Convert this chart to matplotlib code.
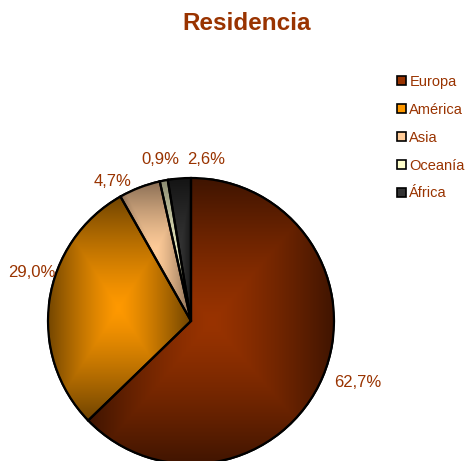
import matplotlib
matplotlib.use("Agg")
import matplotlib.pyplot as plt
import matplotlib.colors as mcolors
from matplotlib.patches import Patch, Wedge
import numpy as np

plt.rcParams['font.family'] = ['Liberation Sans', 'DejaVu Sans']

# data
regions = ["Europa", "América", "Asia", "Oceanía", "África"]
shares = [62.7, 29.0, 4.7, 0.9, 2.6]
pct_labels = ["62,7%", "29,0%", "4,7%", "0,9%", "2,6%"]

# centre / edge colours of the gradient fill
light = ["#993300", "#ff9900", "#ffcc99", "#e0e0b8", "#333333"]
dark = ["#3f1400", "#704400", "#8a6e55", "#8a8a70", "#141414"]
legend_cols = ["#993300", "#ff9900", "#ffcc99", "#ffffcc", "#333333"]
label_offsets = [(35, -6), (-18, 28), (-27, 6), (-3, 21), (27, 19)]

txt_col = "#993300"

fig = plt.figure(figsize=(4.66, 4.61), dpi=100)
ax = fig.add_axes([48 / 466, -3 / 461, 286 / 466, 286 / 461])

wedges, _ = ax.pie(shares, startangle=90, counterclock=False,
                   colors=light, radius=1,
                   wedgeprops=dict(edgecolor="black", linewidth=1.6))
ax.set_xlim(-1, 1)
ax.set_ylim(-1, 1)
ax.set_aspect("equal")
ax.axis("off")

# rectangular "from centre" gradient inside each wedge
for w, c1, c2 in zip(wedges, light, dark):
    verts = w.get_path().vertices
    x0, y0 = verts.min(axis=0)
    x1, y1 = verts.max(axis=0)
    n = 200
    xs = np.linspace(-1, 1, n)
    X, Y = np.meshgrid(xs, xs)
    t = np.clip(np.maximum(np.abs(X), np.abs(Y)), 0, 1) ** 1.3
    a = np.array(mcolors.to_rgb(c1))
    b = np.array(mcolors.to_rgb(c2))
    img = a[None, None, :] * (1 - t[..., None]) + b[None, None, :] * t[..., None]
    im = ax.imshow(img, extent=(x0, x1, y0, y1), origin="lower",
                   interpolation="bilinear", zorder=w.get_zorder() + 0.1)
    im.set_clip_path(w)
    ax.add_patch(Wedge(w.center, w.r, w.theta1, w.theta2, facecolor="none",
                       edgecolor="black", linewidth=1.6, zorder=3))

# percentage labels
for w, lab, off in zip(wedges, pct_labels, label_offsets):
    ang = np.deg2rad((w.theta1 + w.theta2) / 2)
    ax.annotate(lab, xy=(np.cos(ang), np.sin(ang)), xytext=off,
                textcoords="offset pixels", ha="center", va="center",
                fontsize=12, color=txt_col, annotation_clip=False)

fig.text(247 / 466, 1 - 23 / 461, "Residencia", ha="center", va="center",
         fontsize=17.5, fontweight="bold", color=txt_col)

handles = [Patch(facecolor=c, edgecolor="black", linewidth=1.2) for c in legend_cols]
leg = fig.legend(handles, regions, loc="upper left",
                 bbox_to_anchor=(397 / 466, 1 - 75 / 461), frameon=False,
                 handlelength=0.6, handleheight=0.6, handletextpad=0.25,
                 labelspacing=0.95, fontsize=10.5, borderaxespad=0, borderpad=0)
for t in leg.get_texts():
    t.set_color(txt_col)

fig.savefig("out.png", dpi=100, facecolor="white")
